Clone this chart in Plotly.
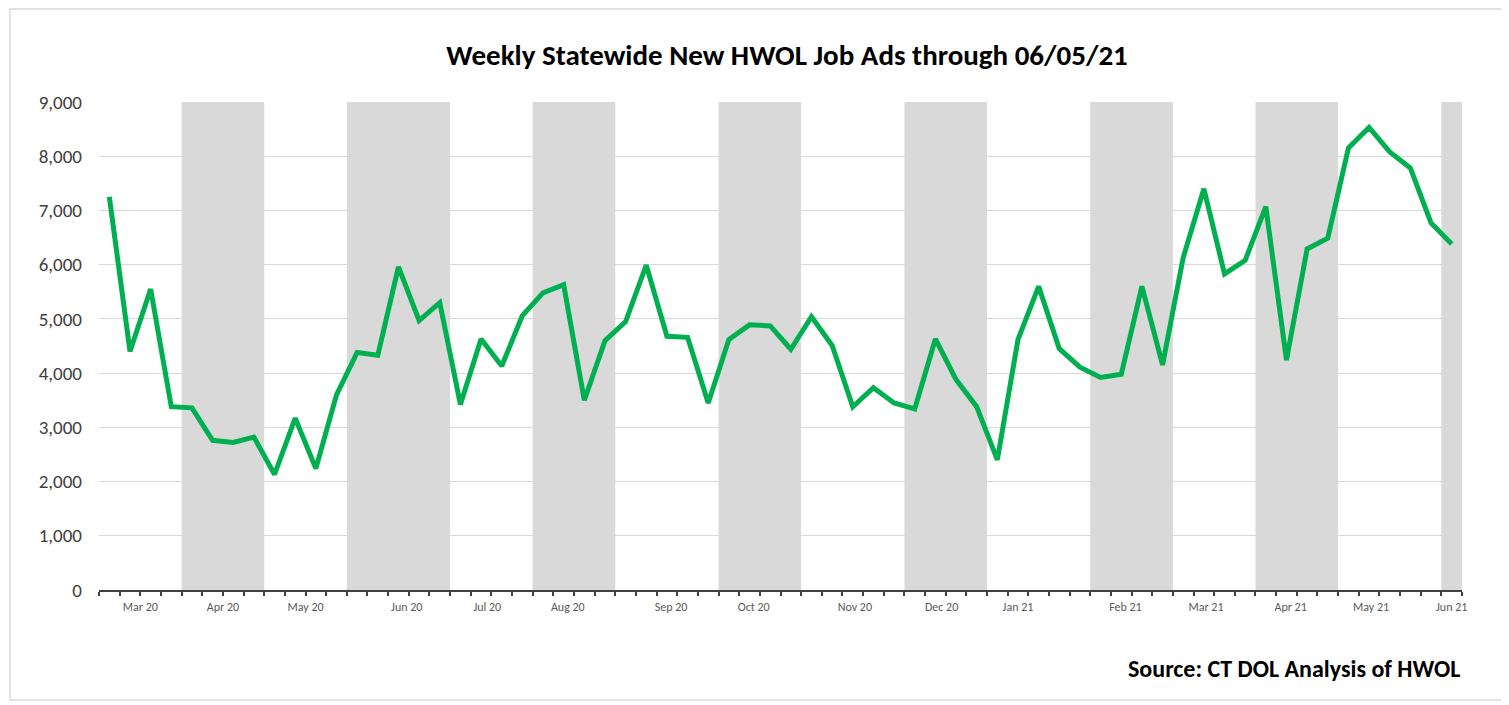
import plotly.graph_objects as go

# ---------------- data ----------------
job_ads = [7250, 4400, 5550, 3380, 3360, 2760, 2720, 2820, 2130, 3170,
           2240, 3600, 4380, 4330, 5960, 4970, 5300, 3420, 4630, 4130,
           5060, 5480, 5630, 3500, 4600, 4950, 5990, 4680, 4660, 3450,
           4620, 4890, 4870, 4440, 5040, 4510, 3380, 3730, 3450, 3340,
           4630, 3880, 3380, 2400, 4620, 5600, 4450, 4110, 3920, 3980,
           5600, 4150, 6130, 7400, 5830, 6080, 7070, 4240, 6290, 6490,
           8150, 8530, 8080, 7780, 6770, 6380]
week_index = list(range(len(job_ads)))

month_labels = ["Mar 20", "Apr 20", "May 20", "Jun 20", "Jul 20", "Aug 20",
                "Sep 20", "Oct 20", "Nov 20", "Dec 20", "Jan 21", "Feb 21",
                "Mar 21", "Apr 21", "May 21", "Jun 21"]
weeks_per_month = [4, 4, 4, 5, 4, 4, 5, 4, 5, 4, 5, 4, 4, 4, 5, 1]
month_label_x = [1.5, 5.5, 9.5, 14.4, 18.3, 22.2, 27.2, 31.2, 36.1, 40.3,
                 44.0, 49.2, 53.1, 57.2, 61.1, 65.0]
shaded_month = [False, True] * 8

y_ticks = [0, 1000, 2000, 3000, 4000, 5000, 6000, 7000, 8000, 9000]

title_text = "Weekly Statewide New HWOL Job Ads through 06/05/21"
source_text = "Source: CT DOL Analysis of HWOL"

# ---------------- layout constants ----------------
OFF = 8                      # default page body margin
W, H = 1509 - OFF, 705 - OFF
ML, MR, MT, MB = 99 - OFF, 47, 102 - OFF, 115
FONT = "Calibri, Carlito, Lato, sans-serif"
x_lo, x_hi = -0.5, len(job_ads) - 0.5
y_lo, y_hi = y_ticks[0], y_ticks[-1]

fig = go.Figure()

# month bands (alternate months shaded)
shapes = []
start = x_lo
for n, sh in zip(weeks_per_month, shaded_month):
    end = start + n
    if sh:
        shapes.append(dict(type="rect", xref="x", yref="y", x0=start, x1=end,
                           y0=y_lo, y1=y_hi, fillcolor="#d9d9d9",
                           line=dict(width=0), layer="below"))
    start = end

# outer chart border (paper coords computed from page pixels)
pw, ph = W - ML - MR, H - MT - MB
def px2x(p):
    return (p - OFF - ML) / pw
def py2y(p):
    return (H - MB - (p - OFF)) / ph
shapes.append(dict(type="rect", xref="paper", yref="paper",
                   x0=px2x(10), x1=px2x(1504), y0=py2y(9), y1=py2y(700),
                   line=dict(color="#d9d9d9", width=1.5), fillcolor="rgba(0,0,0,0)",
                   layer="below"))

fig.add_trace(go.Scatter(x=week_index, y=job_ads, mode="lines",
                         line=dict(color="#00b050", width=5),
                         showlegend=False, hoverinfo="x+y"))
# dummy trace to anchor the label axis
fig.add_trace(go.Scatter(x=[x_lo, x_hi], y=[None, None], xaxis="x2",
                         mode="lines", showlegend=False, hoverinfo="skip"))

fig.update_layout(
    width=W, height=H,
    margin=dict(l=ML, r=MR, t=MT, b=MB),
    paper_bgcolor="white", plot_bgcolor="white",
    font=dict(family=FONT, color="#404040"),
    shapes=shapes,
    title=dict(text="<b>" + title_text + "</b>", x=px2x(787) * pw / W + ML / W,
               xanchor="center", y=1 - (55 - OFF) / H, yanchor="middle",
               font=dict(family=FONT, size=29, color="#000000")),
    xaxis=dict(range=[x_lo, x_hi], tickmode="array",
               tickvals=[x_lo + i for i in range(len(job_ads) + 1)],
               showticklabels=False, ticks="outside", ticklen=4,
               tickcolor="#404040", tickwidth=1.5,
               showline=True, linecolor="#404040", linewidth=1.5,
               showgrid=False, zeroline=False, fixedrange=True),
    xaxis2=dict(range=[x_lo, x_hi], overlaying="x", anchor="y", side="bottom",
                tickmode="array", tickvals=month_label_x, ticktext=month_labels,
                ticks="", showline=False, showgrid=False, zeroline=False,
                ticklabelstandoff=8,
                tickfont=dict(family=FONT, size=12, color="#595959")),
    yaxis=dict(range=[y_lo, y_hi], tickmode="array", tickvals=y_ticks,
               tickformat=",", showgrid=True, gridcolor="#d9d9d9", gridwidth=1,
               zeroline=False, showline=False, ticks="",
               ticklabelstandoff=16,
               tickfont=dict(family=FONT, size=19, color="#404040")),
    annotations=[dict(text="<b>" + source_text + "</b>", xref="paper", yref="paper",
                      x=1.0, y=py2y(668), xanchor="right", yanchor="middle",
                      showarrow=False,
                      font=dict(family=FONT, size=24, color="#000000"))],
)

fig.write_html("out.html")
